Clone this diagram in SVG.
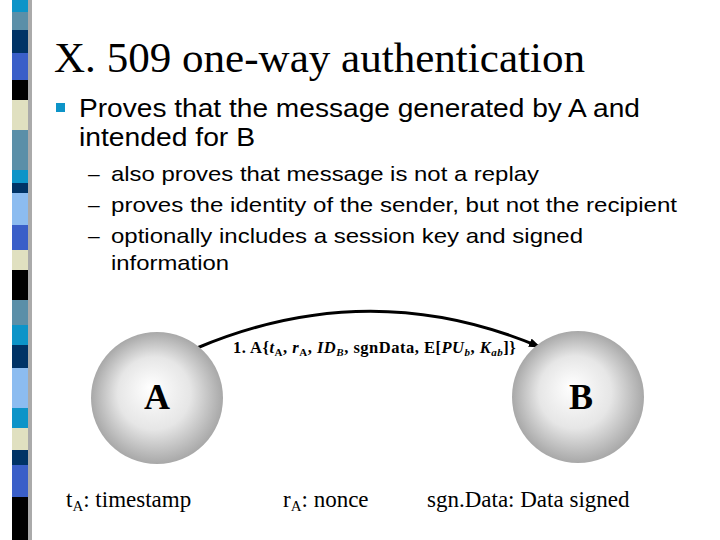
<svg xmlns="http://www.w3.org/2000/svg" width="720" height="540" viewBox="0 0 720 540">
<defs>
<radialGradient id="sph" cx="0.5" cy="0.5" r="0.5" fx="0.45" fy="0.42">
<stop offset="0" stop-color="#ffffff"/><stop offset="0.55" stop-color="#e6e6e6"/><stop offset="1" stop-color="#a8a8a8"/>
</radialGradient>
<marker id="ah" markerWidth="12" markerHeight="9" refX="11" refY="4.5" orient="auto" markerUnits="userSpaceOnUse" viewBox="0 0 12 9"><path d="M0,0 L12,4.5 L0,9 z" fill="#000"/></marker>
<style>
.t{font-family:"Liberation Serif",serif;fill:#000}
.s{font-family:"Liberation Sans",Arial,sans-serif;fill:#000}
</style>
</defs>
<rect width="720" height="540" fill="#fff"/>
<g id="stripe">
<rect x="28" y="0" width="4" height="540" fill="#aaa"/>
<rect x="12" y="0" width="16" height="12" fill="#0d94c8"/>
<rect x="12" y="12" width="16" height="18" fill="#5b8fa8"/>
<rect x="12" y="30" width="16" height="23" fill="#003366"/>
<rect x="12" y="53" width="16" height="27" fill="#3a5fc8"/>
<rect x="12" y="80" width="16" height="20" fill="#000"/>
<rect x="12" y="100" width="16" height="30" fill="#e0e0c0"/>
<rect x="12" y="130" width="16" height="40" fill="#5b8fa8"/>
<rect x="12" y="170" width="16" height="13" fill="#0d94c8"/>
<rect x="12" y="183" width="16" height="10" fill="#003366"/>
<rect x="12" y="193" width="16" height="32" fill="#8cbcf0"/>
<rect x="12" y="225" width="16" height="25" fill="#3a5fc8"/>
<rect x="12" y="250" width="16" height="20" fill="#e0e0c0"/>
<rect x="12" y="270" width="16" height="30" fill="#000"/>
<rect x="12" y="300" width="16" height="25" fill="#5b8fa8"/>
<rect x="12" y="325" width="16" height="20" fill="#0d94c8"/>
<rect x="12" y="345" width="16" height="23" fill="#003366"/>
<rect x="12" y="368" width="16" height="40" fill="#8cbcf0"/>
<rect x="12" y="408" width="16" height="20" fill="#0d94c8"/>
<rect x="12" y="428" width="16" height="22" fill="#e0e0c0"/>
<rect x="12" y="450" width="16" height="15" fill="#003366"/>
<rect x="12" y="465" width="16" height="32" fill="#3a5fc8"/>
<rect x="12" y="497" width="16" height="43" fill="#000"/>
</g>
<text class="t" x="54" y="72" font-size="42" fill="#14143c" textLength="531" lengthAdjust="spacingAndGlyphs">X. 509 one-way authentication</text>
<rect x="56" y="103" width="9" height="9" fill="#0d94c8"/>
<text class="s" x="79" y="117" font-size="25" textLength="561" lengthAdjust="spacingAndGlyphs">Proves that the message generated by A and</text>
<text class="s" x="79" y="146" font-size="25" textLength="176" lengthAdjust="spacingAndGlyphs">intended for B</text>
<text class="s" font-size="21"><tspan x="88" y="181">–</tspan><tspan x="111" y="181" textLength="428" lengthAdjust="spacingAndGlyphs">also proves that message is not a replay</tspan></text>
<text class="s" font-size="21"><tspan x="88" y="212">–</tspan><tspan x="111" y="212" textLength="566" lengthAdjust="spacingAndGlyphs">proves the identity of the sender, but not the recipient</tspan></text>
<text class="s" font-size="21"><tspan x="88" y="243">–</tspan><tspan x="111" y="243" textLength="472" lengthAdjust="spacingAndGlyphs">optionally includes a session key and signed</tspan></text>
<text class="s" x="111" y="270" font-size="21" textLength="118" lengthAdjust="spacingAndGlyphs">information</text>
<g id="connectors">
<path d="M197,348 Q370,275 540,347" fill="none" stroke="#000" stroke-width="3" marker-end="url(#ah)"/>
<text class="t" x="233" y="353" font-size="16.5" font-weight="bold" letter-spacing="0.5">1. A{<tspan font-style="italic">t</tspan><tspan font-size="11" dy="3">A</tspan><tspan dy="-3">, </tspan><tspan font-style="italic">r</tspan><tspan font-size="11" dy="3">A</tspan><tspan dy="-3">, </tspan><tspan font-style="italic">ID</tspan><tspan font-size="11" font-style="italic" dy="3">B</tspan><tspan dy="-3">, sgnData, E[</tspan><tspan font-style="italic">PU</tspan><tspan font-size="11" font-style="italic" dy="3">b</tspan><tspan dy="-3">, </tspan><tspan font-style="italic">K</tspan><tspan font-size="11" font-style="italic" dy="3">ab</tspan><tspan dy="-3">]}</tspan></text>
</g>
<g id="nodeA">
<circle cx="157" cy="398" r="66" fill="url(#sph)"/>
<text class="t" x="157" y="409" font-size="36" font-weight="bold" text-anchor="middle">A</text>
</g>
<g id="nodeB">
<circle cx="578" cy="397" r="66" fill="url(#sph)"/>
<text class="t" x="581" y="409" font-size="36" font-weight="bold" text-anchor="middle">B</text>
</g>
<text class="t" x="66" y="507" font-size="23">t<tspan font-size="15" dy="4">A</tspan><tspan dy="-4">: timestamp</tspan></text>
<text class="t" x="283" y="507" font-size="23">r<tspan font-size="15" dy="4">A</tspan><tspan dy="-4">: nonce</tspan></text>
<text class="t" x="427" y="507" font-size="23">sgn.Data: Data signed</text>
</svg>
